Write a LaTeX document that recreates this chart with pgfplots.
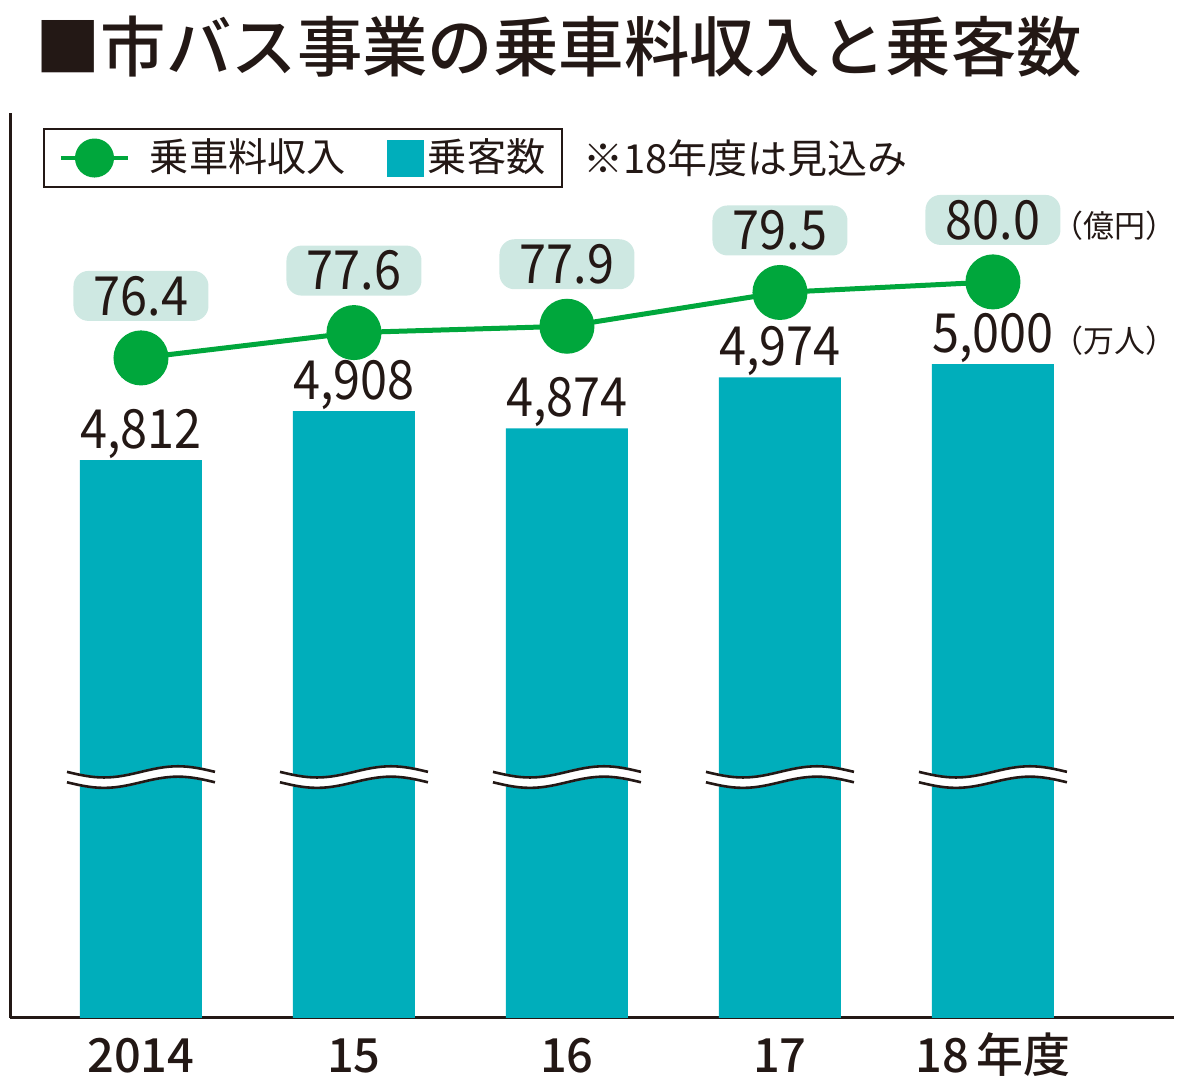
\documentclass[border=0pt]{standalone}
\usepackage{fontspec}
\setmainfont{Noto Sans CJK JP}
\newfontfamily\medfont{Noto Sans CJK JP Medium}
\newfontfamily\numfont{Noto Sans CJK JP}[FakeStretch=0.9]
\usepackage{pgfplots}
\pgfplotsset{compat=1.18}
\definecolor{ink}{HTML}{231815}
\definecolor{barteal}{HTML}{00AEBB}
\definecolor{lgreen}{HTML}{00A73C}
\definecolor{mint}{HTML}{CEE8E2}
\begin{document}
\begin{tikzpicture}
\begin{axis}[
  scale only axis, width=582pt, height=452.5pt,
  xmin=-0.615, xmax=4.85, ymin=3719, ymax=5492,
  axis x line*=bottom, axis y line*=left,
  axis line style={ink, line width=1.5pt, -},
  xtick={0,1,2,3,4}, xticklabels={2014,15,16,17,18\,年度},
  ytick=\empty, major tick length=0pt,
  x tick label style={font=\fontsize{23.5}{23.5}\selectfont\medfont, text=ink, anchor=base, yshift=-27.5pt},
  clip mode=individual,
  legend style={at={(rel axis cs:0.02835,0.9834)}, anchor=north west, draw=ink, line width=1pt, fill=white,
    inner xsep=6pt, inner ysep=4.75pt, font=\fontsize{19.6}{19.6}\selectfont, text=ink,
    nodes={inner xsep=2pt, inner ysep=0pt, text height=16pt, text depth=2.5pt}},
  legend columns=2,
]
\addlegendimage{legend image code/.code={
  \path (-2pt,0) (42pt,0);
  \draw[lgreen, line width=2pt] (0pt,0) -- (33.5pt,0);
  \fill[lgreen] (16.75pt,0) circle (9.25pt);}}
\addlegendentry{乗車料収入}
\addlegendimage{legend image code/.code={
  \path (-18.5pt,0);
  \fill[barteal] (0,-8.75pt) rectangle (17.5pt,8.75pt);}}
\addlegendentry{乗客数}
\addplot[ybar, bar width=61pt, fill=barteal, draw=none, forget plot,
  nodes near coords={\pgfmathprintnumber[assume math mode=true, 1000 sep={,}]{\pgfplotspointmeta}},
  every node near coord/.append style={font=\fontsize{27}{27}\selectfont\numfont, text=ink, anchor=base, inner sep=0pt, yshift=6pt}]
  coordinates {(0,4812) (1,4908) (2,4874) (3,4974) (4,5000)};
\pgfplotsinvokeforeach{0,1,2,3,4}{
  \draw[white, line width=6pt] ([xshift=-37pt]axis cs:#1,4191) sin ++(18.5pt,-2.8pt) cos ++(18.5pt,2.8pt) sin ++(18.5pt,2.8pt) cos ++(18.5pt,-2.8pt);
  \draw[ink, line width=1.3pt] ([shift={(-37pt,2.6pt)}]axis cs:#1,4191) sin ++(18.5pt,-2.8pt) cos ++(18.5pt,2.8pt) sin ++(18.5pt,2.8pt) cos ++(18.5pt,-2.8pt);
  \draw[ink, line width=1.3pt] ([shift={(-37pt,-2.6pt)}]axis cs:#1,4191) sin ++(18.5pt,-2.8pt) cos ++(18.5pt,2.8pt) sin ++(18.5pt,2.8pt) cos ++(18.5pt,-2.8pt);
}
\node[font=\fontsize{15.5}{15.5}\selectfont, text=ink] at (axis cs:4.57,5045) {（万人）};
\node[anchor=west, inner sep=0pt, font=\fontsize{32.7}{32.7}\selectfont\medfont, text=ink] at (rel axis cs:0.0215,1.073) {■市バス事業の乗車料収入と乗客数};
\node[anchor=west, inner sep=0pt, font=\fontsize{20}{20}\selectfont, text=ink] at (rel axis cs:0.4923,0.950) {※18年度は見込み};
\coordinate (BL) at (rel axis cs:0,0);
\coordinate (TR) at (rel axis cs:1,1);
\end{axis}
\begin{axis}[
  scale only axis, width=582pt, height=452.5pt,
  xmin=-0.615, xmax=4.85, ymin=45.14, ymax=88.0,
  hide axis, clip=false]
\addplot[lgreen, line width=2.5pt, mark=*, mark size=12.5pt, mark options={fill=lgreen, draw=none},
  nodes near coords={\pgfmathprintnumber[fixed, fixed zerofill, precision=1, assume math mode=true]{\pgfplotspointmeta}},
  every node near coord/.append style={font=\fontsize{27}{27}\selectfont\numfont, text=ink, anchor=center, yshift=31pt,
    fill=mint, rounded corners=7.5pt, minimum width=67.5pt, minimum height=25pt, inner sep=0pt}]
  coordinates {(0,76.4) (1,77.6) (2,77.9) (3,79.5) (4,80.0)};
\node[font=\fontsize{15.5}{15.5}\selectfont, text=ink] at (axis cs:4.57,82.65) {（億円）};
\end{axis}
\pgfresetboundingbox
\path[use as bounding box] ([shift={(-5pt,-37pt)}]BL) rectangle ([shift={(13pt,56.5pt)}]TR);
\end{tikzpicture}
\end{document}
